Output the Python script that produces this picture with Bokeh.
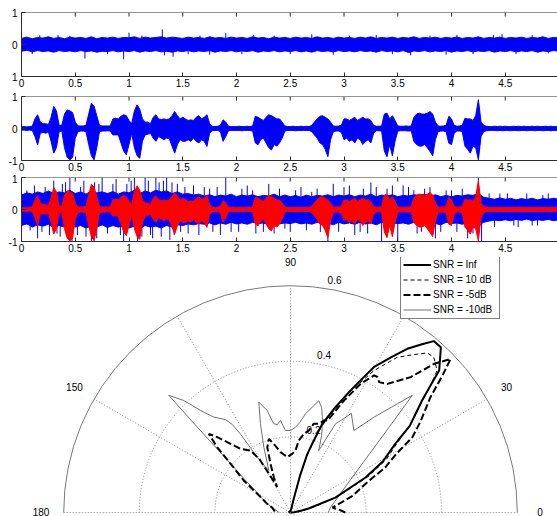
import numpy as np
from bokeh.plotting import figure
from bokeh.layouts import column
from bokeh.models import Range1d, FixedTicker, Legend, LegendItem, Span
from bokeh.core.properties import value
from bokeh.embed import file_html
from bokeh.resources import INLINE

FONT = "Liberation Sans"
AX_COLOR = "#2b2b2b"
BLUE = "#0000ff"
RED = "#ff0000"
PAGE_W = 557
LEFT = 21

# ---------------- axis ticks ----------------
X_END = 4.986
X_TICKS = [0, 0.5, 1, 1.5, 2, 2.5, 3, 3.5, 4, 4.5]
X_TICK_LABELS = ["0", "0.5", "1", "1.5", "2", "2.5", "3", "3.5", "4", "4.5"]
Y_TICKS = [-1, 0, 1]
Y_TICK_LABELS_TOP = ["1", "0", "1"]
Y_TICK_LABELS = ["-1", "0", "1"]

# ---------------- panel 1: noise only (envelope every 0.05 s) ----------------
NOISE_STEP = 0.05
NOISE_UP = [0.19, 0.23, 0.18, 0.22, 0.20, 0.24, 0.19, 0.22, 0.18, 0.23,
            0.20, 0.22, 0.19, 0.24, 0.18, 0.22, 0.20, 0.23, 0.19, 0.22,
            0.21, 0.24, 0.19, 0.23, 0.20, 0.22, 0.24, 0.20, 0.23, 0.21,
            0.19, 0.23, 0.20, 0.22, 0.19, 0.24, 0.20, 0.22, 0.19, 0.23,
            0.20, 0.22, 0.19, 0.24, 0.20, 0.22, 0.18, 0.23, 0.20, 0.22,
            0.19, 0.23, 0.20, 0.22, 0.19, 0.24, 0.20, 0.22, 0.19, 0.23,
            0.20, 0.22, 0.19, 0.23, 0.20, 0.24, 0.19, 0.22, 0.20, 0.23,
            0.19, 0.22, 0.20, 0.24, 0.19, 0.22, 0.20, 0.23, 0.19, 0.22,
            0.20, 0.23, 0.19, 0.22, 0.20, 0.24, 0.19, 0.22, 0.20, 0.23,
            0.19, 0.22, 0.20, 0.23, 0.19, 0.22, 0.20, 0.24, 0.19, 0.22,
            0.20]
NOISE_LO = [-0.21, -0.18, -0.23, -0.19, -0.22, -0.20, -0.24, -0.19, -0.22, -0.20,
            -0.23, -0.19, -0.22, -0.20, -0.24, -0.21, -0.22, -0.19, -0.23, -0.20,
            -0.22, -0.19, -0.24, -0.20, -0.22, -0.19, -0.23, -0.21, -0.24, -0.20,
            -0.22, -0.19, -0.23, -0.20, -0.22, -0.19, -0.24, -0.20, -0.22, -0.19,
            -0.23, -0.20, -0.22, -0.19, -0.24, -0.20, -0.22, -0.19, -0.23, -0.20,
            -0.22, -0.19, -0.23, -0.20, -0.24, -0.19, -0.22, -0.20, -0.23, -0.19,
            -0.22, -0.20, -0.23, -0.19, -0.22, -0.20, -0.24, -0.19, -0.22, -0.20,
            -0.23, -0.19, -0.25, -0.20, -0.22, -0.19, -0.23, -0.20, -0.22, -0.19,
            -0.24, -0.20, -0.22, -0.19, -0.23, -0.20, -0.22, -0.19, -0.24, -0.20,
            -0.22, -0.19, -0.23, -0.20, -0.22, -0.19, -0.24, -0.20, -0.22, -0.19,
            -0.21]
NOISE_SPIKES = [(0.10, -0.30), (0.17, 0.29), (0.34, 0.30), (0.45, 0.27), (0.59, -0.44),
                (0.80, -0.30), (0.95, -0.46), (1.00, 0.37), (1.12, 0.28), (1.31, 0.47),
                (1.33, -0.34), (1.41, -0.38), (1.55, -0.30), (1.66, 0.28), (1.75, -0.32),
                (1.90, 0.35), (2.05, -0.30), (2.16, 0.30), (2.35, 0.28), (2.50, -0.30),
                (2.70, 0.32), (2.90, -0.32), (3.05, 0.28), (3.30, 0.30), (3.45, -0.30),
                (3.62, -0.34), (3.80, 0.28), (3.95, -0.32), (4.05, 0.30), (4.20, -0.30),
                (4.39, 0.30), (4.47, 0.32), (4.60, -0.30), (4.75, 0.30), (4.90, -0.28)]

# ---------------- panel 2: clean speech (envelope every 0.025 s) ----------------
SPEECH_STEP = 0.025
SPEECH_UP = [0.05, 0.06, 0.05, 0.06, 0.07, 0.30, 0.43, 0.20, 0.15, 0.15,
             0.12, 0.35, 0.69, 0.55, 0.10, 0.10, 0.45, 0.58, 0.55, 0.50,
             0.20, 0.08, 0.08, 0.08, 0.10, 0.45, 0.79, 0.70, 0.40, 0.10,
             0.08, 0.08, 0.08, 0.08, 0.30, 0.32, 0.30, 0.38, 0.43, 0.40,
             0.25, 0.15, 0.55, 0.74, 0.60, 0.30, 0.20, 0.20, 0.15, 0.35,
             0.43, 0.30, 0.28, 0.30, 0.28, 0.30, 0.40, 0.53, 0.40, 0.30,
             0.35, 0.30, 0.25, 0.27, 0.25, 0.35, 0.40, 0.30, 0.35, 0.43,
             0.15, 0.07, 0.06, 0.07, 0.10, 0.27, 0.20, 0.07, 0.06, 0.06,
             0.06, 0.07, 0.06, 0.06, 0.07, 0.06, 0.08, 0.38, 0.35, 0.30,
             0.25, 0.35, 0.43, 0.40, 0.35, 0.30, 0.30, 0.20, 0.08, 0.06,
             0.06, 0.07, 0.06, 0.06, 0.07, 0.06, 0.07, 0.06, 0.10, 0.20,
             0.30, 0.38, 0.40, 0.35, 0.30, 0.20, 0.08, 0.07, 0.08, 0.10,
             0.30, 0.30, 0.25, 0.30, 0.35, 0.25, 0.30, 0.35, 0.30, 0.30,
             0.25, 0.10, 0.07, 0.07, 0.08, 0.45, 0.48, 0.30, 0.40, 0.25,
             0.08, 0.07, 0.07, 0.08, 0.07, 0.08, 0.35, 0.45, 0.48, 0.45,
             0.45, 0.48, 0.53, 0.45, 0.20, 0.08, 0.07, 0.08, 0.10, 0.38,
             0.30, 0.10, 0.07, 0.08, 0.10, 0.32, 0.30, 0.30, 0.25, 0.40,
             0.90, 0.20, 0.10, 0.07, 0.06, 0.06, 0.07, 0.06, 0.07, 0.06,
             0.07, 0.06, 0.06, 0.07, 0.06, 0.07, 0.06, 0.07, 0.06, 0.06,
             0.07, 0.06, 0.07, 0.06, 0.06, 0.07, 0.06, 0.07, 0.06, 0.06,
             0.06]
SPEECH_LO = [-0.05, -0.05, -0.06, -0.05, -0.06, -0.25, -0.51, -0.15, -0.12, -0.15,
             -0.10, -0.40, -0.77, -0.60, -0.10, -0.08, -0.60, -0.90, -0.98, -0.90,
             -0.30, -0.10, -0.08, -0.08, -0.10, -0.50, -0.85, -0.98, -0.60, -0.10,
             -0.08, -0.08, -0.07, -0.08, -0.20, -0.20, -0.20, -0.45, -0.70, -0.82,
             -0.50, -0.15, -0.60, -0.85, -0.93, -0.40, -0.20, -0.18, -0.15, -0.30,
             -0.40, -0.25, -0.30, -0.35, -0.30, -0.32, -0.55, -0.77, -0.50, -0.35,
             -0.40, -0.40, -0.35, -0.40, -0.30, -0.40, -0.45, -0.35, -0.40, -0.56,
             -0.15, -0.07, -0.06, -0.06, -0.10, -0.40, -0.25, -0.07, -0.06, -0.06,
             -0.06, -0.06, -0.07, -0.06, -0.06, -0.06, -0.08, -0.45, -0.51, -0.35,
             -0.30, -0.45, -0.60, -0.67, -0.50, -0.55, -0.45, -0.30, -0.08, -0.06,
             -0.06, -0.06, -0.07, -0.06, -0.06, -0.06, -0.06, -0.06, -0.10, -0.20,
             -0.30, -0.45, -0.50, -0.65, -0.88, -0.35, -0.10, -0.08, -0.08, -0.12,
             -0.35, -0.30, -0.40, -0.35, -0.45, -0.30, -0.35, -0.50, -0.40, -0.35,
             -0.45, -0.15, -0.07, -0.07, -0.08, -0.70, -0.88, -0.50, -0.85, -0.40,
             -0.08, -0.07, -0.07, -0.07, -0.08, -0.07, -0.40, -0.50, -0.55, -0.55,
             -0.50, -0.60, -0.72, -0.85, -0.35, -0.10, -0.08, -0.08, -0.10, -0.46,
             -0.50, -0.15, -0.08, -0.08, -0.10, -0.55, -0.65, -0.77, -0.55, -0.60,
             -0.98, -0.25, -0.10, -0.07, -0.06, -0.06, -0.06, -0.07, -0.06, -0.07,
             -0.06, -0.06, -0.07, -0.06, -0.06, -0.07, -0.06, -0.06, -0.07, -0.06,
             -0.06, -0.07, -0.06, -0.06, -0.07, -0.06, -0.06, -0.07, -0.06, -0.06,
             -0.06]

# ---------------- panel 3: noisy speech (blue) with clean speech (red) ----------------
NOISY_STEP = 0.05
NOISY_UP = [0.45, 0.52, 0.48, 0.55, 0.50, 0.58, 0.50, 0.55, 0.52, 0.60,
            0.50, 0.55, 0.48, 0.58, 0.52, 0.55, 0.50, 0.56, 0.48, 0.55,
            0.52, 0.60, 0.50, 0.58, 0.52, 0.60, 0.55, 0.58, 0.50, 0.55,
            0.48, 0.50, 0.45, 0.48, 0.42, 0.46, 0.40, 0.45, 0.42, 0.48,
            0.40, 0.45, 0.42, 0.46, 0.40, 0.44, 0.42, 0.48, 0.40, 0.45,
            0.40, 0.44, 0.38, 0.45, 0.40, 0.44, 0.42, 0.46, 0.40, 0.45,
            0.42, 0.46, 0.40, 0.45, 0.42, 0.48, 0.40, 0.45, 0.42, 0.46,
            0.40, 0.44, 0.42, 0.46, 0.44, 0.48, 0.42, 0.46, 0.40, 0.44,
            0.40, 0.44, 0.42, 0.46, 0.44, 0.50, 0.38, 0.35, 0.32, 0.36,
            0.32, 0.35, 0.30, 0.34, 0.31, 0.35, 0.30, 0.34, 0.32, 0.35,
            0.32]
NOISY_LO = [-0.50, -0.45, -0.55, -0.48, -0.52, -0.46, -0.58, -0.50, -0.55, -0.48,
            -0.55, -0.50, -0.58, -0.52, -0.55, -0.48, -0.56, -0.50, -0.55, -0.52,
            -0.58, -0.52, -0.60, -0.50, -0.55, -0.52, -0.58, -0.50, -0.55, -0.48,
            -0.50, -0.45, -0.48, -0.44, -0.46, -0.42, -0.48, -0.42, -0.46, -0.40,
            -0.45, -0.42, -0.46, -0.40, -0.44, -0.42, -0.48, -0.40, -0.45, -0.42,
            -0.44, -0.40, -0.45, -0.42, -0.46, -0.40, -0.45, -0.42, -0.48, -0.40,
            -0.45, -0.42, -0.46, -0.40, -0.45, -0.42, -0.48, -0.40, -0.45, -0.42,
            -0.44, -0.42, -0.46, -0.40, -0.48, -0.42, -0.46, -0.44, -0.48, -0.40,
            -0.44, -0.42, -0.46, -0.42, -0.48, -0.50, -0.40, -0.36, -0.33, -0.35,
            -0.32, -0.35, -0.31, -0.34, -0.30, -0.35, -0.32, -0.34, -0.31, -0.35,
            -0.32]
NOISY_SPIKES = [(0.05, 0.60), (0.08, -0.65), (0.12, 0.75), (0.15, -0.90), (0.19, -0.70),
                (0.22, 0.70), (0.26, -0.80), (0.30, 0.90), (0.33, -0.75), (0.36, -0.85),
                (0.38, 0.80), (0.41, 0.85), (0.45, 1.00), (0.47, -1.00), (0.52, -0.80),
                (0.55, 0.70), (0.58, 0.90), (0.60, -0.85), (0.65, -1.00), (0.68, 0.85),
                (0.70, -0.90), (0.72, 0.80), (0.75, 1.00), (0.80, -0.75), (0.85, 0.80),
                (0.88, 0.95), (0.92, -0.80), (0.95, -1.00), (0.98, 0.80), (1.02, 0.90),
                (1.05, 1.00), (1.08, -1.00), (1.12, -0.85), (1.15, 1.00), (1.18, 0.90),
                (1.20, -0.80), (1.22, -0.90), (1.25, 1.00), (1.28, 0.85), (1.30, -0.85),
                (1.32, 0.90), (1.35, 1.00), (1.38, -0.95), (1.40, 0.85), (1.42, -0.80),
                (1.45, 0.80), (1.48, -0.70), (1.52, 0.70), (1.55, -0.75), (1.60, 0.75),
                (1.65, -0.80), (1.70, 0.70), (1.75, 0.65), (1.78, -0.70), (1.82, 0.70),
                (1.85, -0.80), (1.90, 1.00), (1.95, -0.70), (2.02, -0.70), (2.05, 0.65),
                (2.10, 0.75), (2.15, 0.60), (2.18, -0.75), (2.25, -0.70), (2.30, 0.80),
                (2.35, -0.75), (2.40, 0.65), (2.45, -0.60), (2.50, -0.70), (2.55, 0.60),
                (2.60, 0.70), (2.65, -0.65), (2.70, 0.55), (2.75, 0.65), (2.78, -0.70),
                (2.85, -1.00), (2.90, 0.80), (2.95, -0.70), (3.00, 0.70), (3.05, 0.75),
                (3.10, -0.80), (3.15, -0.70), (3.18, 0.65), (3.22, -0.75), (3.25, 0.85),
                (3.30, 0.70), (3.35, -1.00), (3.40, 0.65), (3.45, 0.75), (3.50, -1.00),
                (3.55, 0.75), (3.60, 0.70), (3.65, 0.60), (3.68, -0.75), (3.72, -0.70),
                (3.75, 0.65), (3.80, 0.70), (3.85, -0.90), (3.90, -0.70), (3.95, 0.60),
                (4.00, 0.60), (4.05, -0.70), (4.10, 0.65), (4.15, -0.90), (4.20, -0.75),
                (4.25, 1.00), (4.28, -1.00), (4.35, 0.50), (4.40, -0.55), (4.45, 0.50),
                (4.52, 0.50), (4.58, -0.50), (4.62, -0.55), (4.70, 0.50), (4.75, -0.50),
                (4.80, -0.50), (4.85, 0.45), (4.90, 0.50)]

# ---------------- polar plot ----------------
POLAR_RMAX = 0.6
RING_VALUES = [0.2, 0.4, 0.6]
SPOKE_ANGLES = [0, 30, 60, 90, 120, 150]
ANGLE_LABEL_POS = [0, 30, 60, 90, 150, 180]
ANGLE_LABELS = ["0", "30", "60", "90", "150", "180"]
RING_LABEL_ANGLE = 82
SNR_LABELS = ["SNR = Inf", "SNR = 10 dB", "SNR = -5dB", "SNR = -10dB"]

INF_THETA = [0, 5, 10, 12.5, 18.4, 25, 29, 33.3, 36, 40.4, 42.2, 43.7, 46, 47.7, 50.1,
             52, 54.5, 57, 60.2, 63.8, 66.9, 70.3, 72.5, 74, 75.5, 76.5, 78, 85, 180]
INF_R = [0.0, 0.01, 0.03, 0.049, 0.125, 0.219, 0.28, 0.332, 0.39, 0.457, 0.50, 0.544, 0.57, 0.591, 0.591,
         0.565, 0.532, 0.49, 0.443, 0.36, 0.303, 0.249, 0.19, 0.16, 0.10, 0.04, 0.01, 0.005, 0.005]

DB10_THETA = [0, 5, 10, 14, 18.4, 25, 29, 33.3, 36, 40.4, 42.2, 44.1, 47.3, 49.4,
              52, 55.5, 59.6, 63.8, 66.9, 70.3, 72.5, 74, 75.5, 76.5, 78, 85, 180]
DB10_R = [0.02, 0.02, 0.04, 0.07, 0.13, 0.23, 0.29, 0.34, 0.39, 0.46, 0.50, 0.54, 0.559, 0.556,
          0.53, 0.498, 0.435, 0.355, 0.295, 0.24, 0.185, 0.15, 0.10, 0.05, 0.015, 0.005, 0.005]

DBM5_THETA = [0, 3, 6.8, 10, 15, 20.9, 25.5, 29, 31.7, 35, 39.5, 42, 43.8, 46, 48.4,
              53, 55.8, 57.3, 58.6, 61.4, 64.4, 68.1, 70.1, 72.1, 75.3, 77.4, 80.4, 83.4, 85.4, 88.3,
              93.4, 99.4, 103.7, 106.4, 109.6, 112.3, 115.3, 117.7, 119.2, 120.2, 122.8, 128.1, 131.1,
              134.2, 136.1, 138.3, 140.9, 145.6, 150.7, 159.5, 165, 180]
DBM5_R = [0.145, 0.13, 0.112, 0.13, 0.17, 0.212, 0.278, 0.32, 0.379, 0.42, 0.48, 0.54, 0.587, 0.547, 0.479,
          0.426, 0.417, 0.426, 0.425, 0.388, 0.329, 0.262, 0.259, 0.247, 0.243, 0.222, 0.211, 0.192, 0.165, 0.155,
          0.147, 0.162, 0.187, 0.203, 0.183, 0.139, 0.103, 0.076, 0.12, 0.163, 0.195, 0.214, 0.241,
          0.278, 0.30, 0.26, 0.204, 0.15, 0.10, 0.066, 0.05, 0.04]

DBM10_THETA = [0, 7.5, 18.9, 28.8, 34.5, 37.1, 41.3, 43.9, 45.5, 48.8, 52.3, 55.5, 58.5, 61, 63.1,
               65.5, 68, 71, 73.5, 75.8, 78.4, 81.4, 84, 86.6, 90, 93.5, 96.2, 98.5, 100.7, 102.9,
               106, 108.7, 112.2, 117.3, 120, 121.5, 122.5, 123.5, 125, 128.8, 131.4, 133.6, 136.1,
               137.5, 140.1, 144.2, 148, 155.8, 165, 180]
DBM10_R = [0.10, 0.107, 0.135, 0.182, 0.233, 0.268, 0.357, 0.447, 0.403, 0.335, 0.274, 0.29, 0.308, 0.28, 0.263,
           0.18, 0.22, 0.26, 0.29, 0.305, 0.284, 0.264, 0.24, 0.226, 0.217, 0.217, 0.245, 0.235, 0.239, 0.277,
           0.304, 0.248, 0.187, 0.125, 0.15, 0.19, 0.245, 0.28, 0.30, 0.324, 0.36, 0.409, 0.447,
           0.335, 0.223, 0.149, 0.11, 0.077, 0.05, 0.03]


def style_axis(ax, standoff=2):
    ax.major_tick_in = 4
    ax.major_tick_out = 0
    ax.minor_tick_in = 0
    ax.minor_tick_out = 0
    ax.axis_line_color = AX_COLOR
    ax.major_tick_line_color = AX_COLOR
    ax.major_label_text_font = FONT
    ax.major_label_text_font_size = "10px"
    ax.major_label_text_color = "black"
    ax.major_label_standoff = standoff


def wave_figure(height, border_top, border_bottom, ylabels):
    p = figure(width=PAGE_W, height=height, x_range=Range1d(0, X_END), y_range=Range1d(-1, 1),
               output_backend="svg", toolbar_location=None, tools="",
               min_border_left=LEFT, min_border_right=0,
               min_border_top=border_top, min_border_bottom=border_bottom)
    p.outline_line_color = None
    p.grid.visible = False
    p.xaxis.ticker = FixedTicker(ticks=X_TICKS)
    p.xaxis.major_label_overrides = dict(zip(X_TICKS, X_TICK_LABELS))
    p.yaxis.ticker = FixedTicker(ticks=Y_TICKS)
    p.yaxis.major_label_overrides = dict(zip(Y_TICKS, ylabels))
    style_axis(p.xaxis[0], 2)
    style_axis(p.yaxis[0], 4)
    return p


def top_border(p):
    # box edge on top with inward tick marks, as in the original axes box
    p.add_layout(Span(location=1, dimension="width", line_color=AX_COLOR, line_width=1))
    p.segment(x0=X_TICKS, y0=[1] * len(X_TICKS), x1=X_TICKS, y1=[1 - 0.125] * len(X_TICKS),
              line_color=AX_COLOR, line_width=1)


def envelope(p, step, up, lo, color):
    t = np.arange(len(up)) * step
    p.varea(x=t, y1=np.array(lo), y2=np.array(up), fill_color=color, fill_alpha=1.0)
    p.line(x=t, y=np.array(up), line_color=color, line_width=1)
    p.line(x=t, y=np.array(lo), line_color=color, line_width=1)


def spikes(p, pairs, color):
    ts = [a for a, _ in pairs]
    vs = [b for _, b in pairs]
    p.segment(x0=ts, y0=[0] * len(ts), x1=ts, y1=vs, line_color=color, line_width=1)


# panel 1
f1 = wave_figure(92, 12, 16, Y_TICK_LABELS_TOP)
envelope(f1, NOISE_STEP, NOISE_UP, NOISE_LO, BLUE)
spikes(f1, NOISE_SPIKES, BLUE)
top_border(f1)

# panel 2
f2 = wave_figure(82, 4, 14, Y_TICK_LABELS)
envelope(f2, SPEECH_STEP, SPEECH_UP, SPEECH_LO, BLUE)
top_border(f2)

# panel 3
f3 = wave_figure(83, 3, 16, Y_TICK_LABELS)
envelope(f3, NOISY_STEP, NOISY_UP, NOISY_LO, BLUE)
spikes(f3, NOISY_SPIKES, BLUE)
envelope(f3, SPEECH_STEP, SPEECH_UP, SPEECH_LO, RED)
top_border(f3)

# polar (its frame starts LEFT px in, like the panels above)
POL_H = 259
px_per_unit = 378.0
cx, cy = 290.0 - LEFT, 255.0  # centre inside the polar frame (pixels from frame top-left)
fw = PAGE_W - LEFT
fp = figure(width=PAGE_W, height=POL_H,
            x_range=Range1d(-cx / px_per_unit, (fw - cx) / px_per_unit),
            y_range=Range1d(-(POL_H - cy) / px_per_unit, cy / px_per_unit),
            output_backend="svg", toolbar_location=None, tools="",
            x_axis_location=None, y_axis_location=None,
            min_border=0, min_border_left=LEFT, min_border_right=0, min_border_top=0, min_border_bottom=0)
fp.grid.visible = False
fp.outline_line_color = None

GRID_DOT = "#8a8a8a"
sp = np.radians(SPOKE_ANGLES)
fp.segment(x0=-POLAR_RMAX * np.cos(sp), y0=-POLAR_RMAX * np.sin(sp),
           x1=POLAR_RMAX * np.cos(sp), y1=POLAR_RMAX * np.sin(sp),
           line_color=GRID_DOT, line_width=1, line_dash="1 2")
fp.arc(x=[0] * (len(RING_VALUES) - 1), y=[0] * (len(RING_VALUES) - 1), radius=RING_VALUES[:-1],
       start_angle=0, end_angle=np.pi, line_color=GRID_DOT, line_width=1, line_dash="1 2")
fp.arc(x=0, y=0, radius=POLAR_RMAX, start_angle=0, end_angle=np.pi, line_color="#7a7a7a", line_width=1)

la = np.radians(ANGLE_LABEL_POS)
fp.text(x=1.1 * POLAR_RMAX * np.cos(la), y=1.1 * POLAR_RMAX * np.sin(la), text=ANGLE_LABELS,
        y_offset=-1, text_align="center", text_baseline="middle", text_font=value(FONT),
        text_font_size="10px", text_color="black")
ra = np.radians(RING_LABEL_ANGLE)
rr = np.array(RING_VALUES) + 0.2 / 20
fp.text(x=rr * np.cos(ra), y=rr * np.sin(ra), text=[f"{v:g}" for v in RING_VALUES],
        x_offset=5, text_align="left", text_baseline="bottom", text_font=value(FONT),
        text_font_size="10px", text_color="black")


def polar_line(theta, r, **kw):
    th = np.radians(theta)
    rv = np.array(r)
    return fp.line(x=rv * np.cos(th), y=rv * np.sin(th), **kw)


r_m10 = polar_line(DBM10_THETA, DBM10_R, line_color="#707070", line_width=1)
r_10 = polar_line(DB10_THETA, DB10_R, line_color="black", line_width=1, line_dash="4 3")
r_m5 = polar_line(DBM5_THETA, DBM5_R, line_color="black", line_width=2, line_dash="7 3")
r_inf = polar_line(INF_THETA, INF_R, line_color="black", line_width=2)

legend = Legend(items=[LegendItem(label=SNR_LABELS[0], renderers=[r_inf]),
                       LegendItem(label=SNR_LABELS[1], renderers=[r_10]),
                       LegendItem(label=SNR_LABELS[2], renderers=[r_m5]),
                       LegendItem(label=SNR_LABELS[3], renderers=[r_m10])],
                location=(400 - LEFT, 197), orientation="vertical",
                label_text_font=FONT, label_text_font_size="10px", label_text_color="black",
                glyph_width=28, glyph_height=13, label_height=13, label_width=64,
                label_standoff=2, spacing=2, padding=2, margin=0,
                border_line_color="black", border_line_width=1,
                background_fill_color="white", background_fill_alpha=1.0)
fp.add_layout(legend)

layout = column(f1, f2, f3, fp, spacing=0)
open("out.html", "w").write(file_html(layout, INLINE, "plot"))
